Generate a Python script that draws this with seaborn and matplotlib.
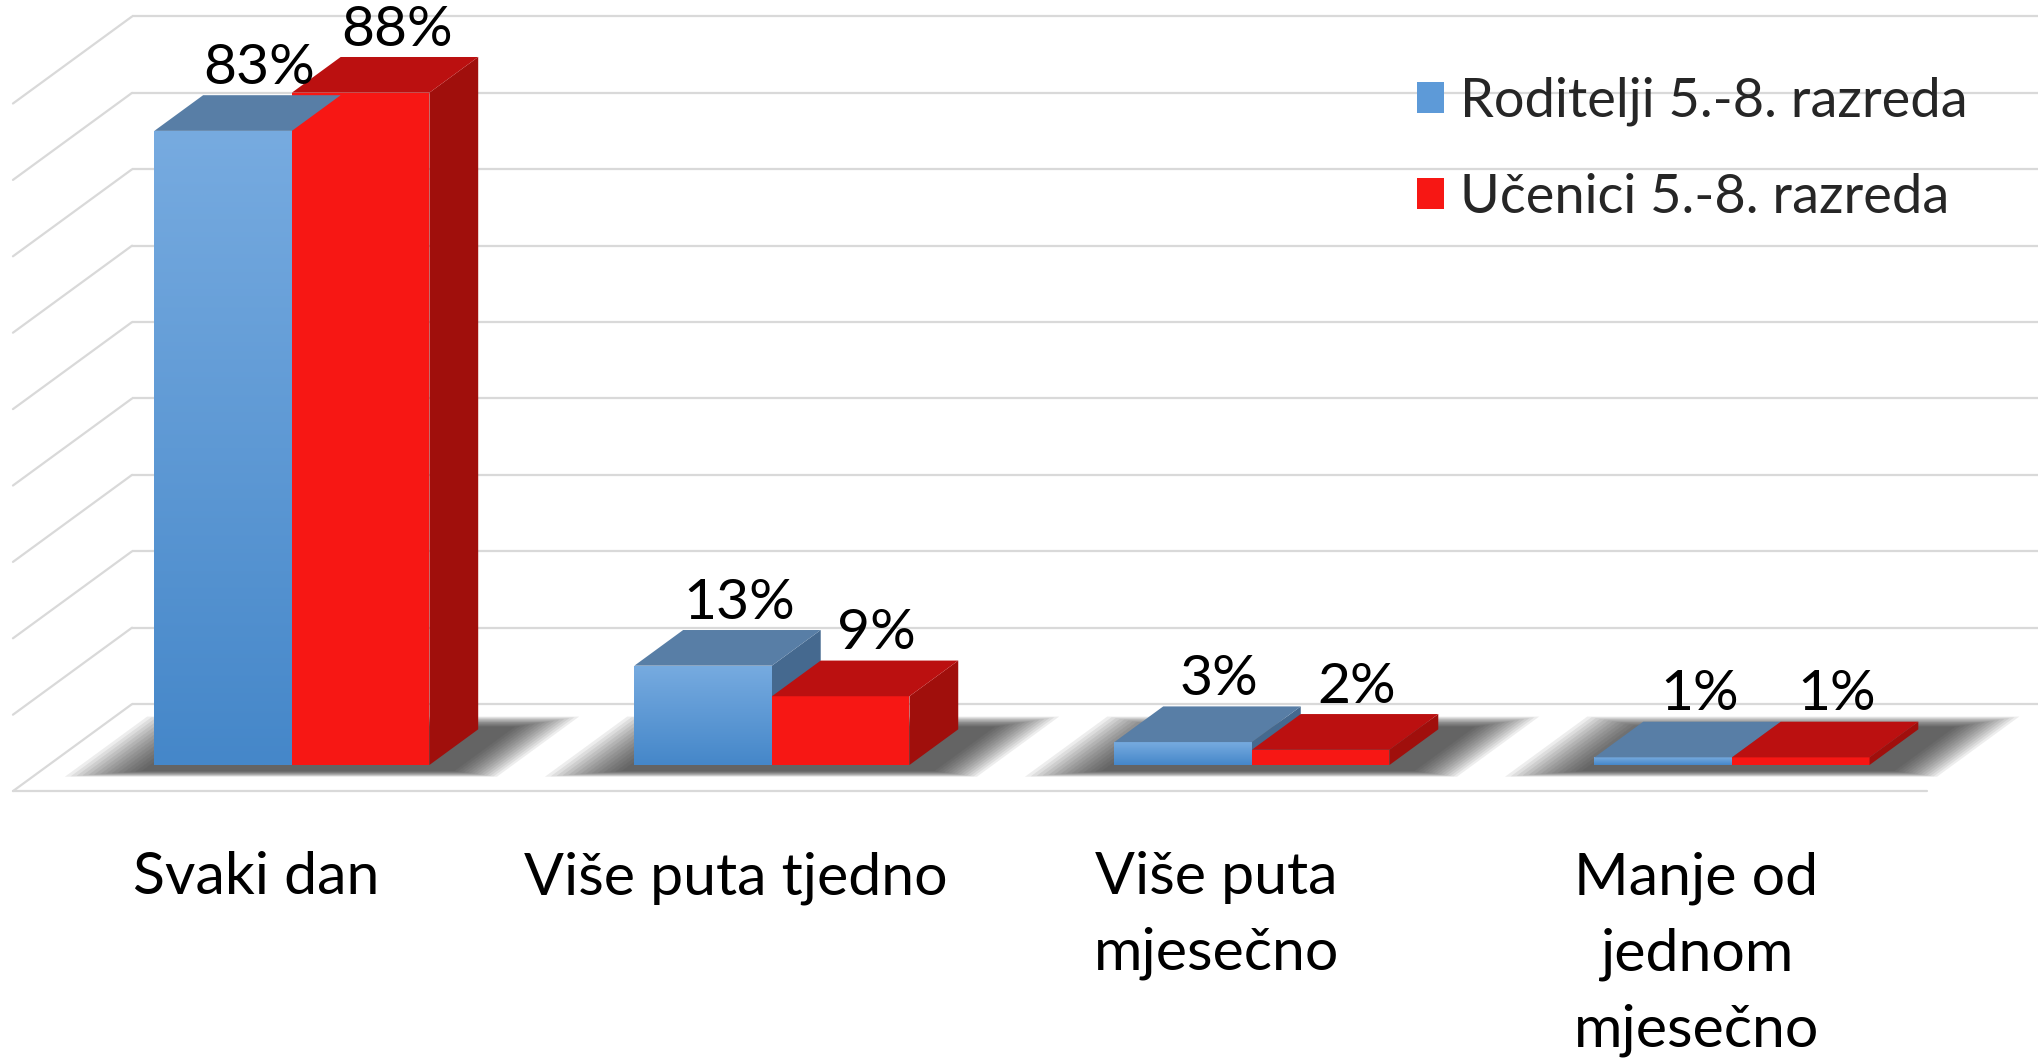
import numpy as np
import pandas as pd
import seaborn as sns
import matplotlib.pyplot as plt
from matplotlib.patches import Polygon, Patch
from matplotlib.colors import LinearSegmentedColormap

# Data
categories = ["Svaki dan", "Više puta tjedno", "Više puta\nmjesečno", "Manje od\njednom\nmjesečno"]
groups = ["Roditelji 5.-8. razreda", "Učenici 5.-8. razreda"]
roditelji = [83, 13, 3, 1]
ucenici = [88, 9, 2, 1]
grid_values = list(range(0, 100, 10))

df = pd.DataFrame({
    "kategorija": categories * 2,
    "grupa": [groups[0]] * len(categories) + [groups[1]] * len(categories),
    "postotak": roditelji + ucenici,
})

# Colours (front, top, side)
blue = "#5d9ad8"
blue_top, blue_side = "#587ea6", "#45698f"
red = "#f71714"
red_top, red_side = "#bb1010", "#a00f0c"
grid_col = "#d9d9d9"

sns.set_style("white")
plt.rcParams['font.family'] = ['Lato', 'DejaVu Sans']

fig = plt.figure(figsize=(20.38, 10.59), dpi=100)
ax = fig.add_axes([0, 0, 1, 1])

sns.barplot(data=df, x="kategorija", y="postotak", hue="grupa", palette=[blue, red],
            width=0.573, saturation=1, legend=False, ax=ax, zorder=5, linewidth=0)
bars = list(ax.patches)

# fake 3d: depth in data units, bars sit between Z1 and Z2 of the floor depth
DX, DY = 0.248, 11.39
Z1, Z2 = 0.30, 0.71


def proj(x, y, z):
    return (x + (z - Z1) * DX, y + (z - Z1) * DY)


x_wall, x_end = -0.5066, 3.48

# back wall gridlines + left wall diagonals
for v in grid_values:
    bx, by = proj(x_wall, v, 1)
    fx, fy = proj(x_wall, v, 0)
    ax.plot([bx, 3.8], [by, by], color=grid_col, lw=1.6, zorder=1, solid_capstyle='butt')
    ax.plot([fx, bx], [fy, by], color=grid_col, lw=1.6, zorder=1)
fx0, fy0 = proj(x_wall, 0, 0)
fx1, _ = proj(x_end, 0, 0)
ax.plot([fx0, fx1], [fy0, fy0], color=grid_col, lw=1.6, zorder=1)

n = len(categories)
blue_bars, red_bars = bars[:n], bars[n:2 * n]

# soft shadow on the floor under each pair (stacked translucent layers)
for b, r in zip(blue_bars, red_bars):
    x0, x1 = b.get_x(), r.get_x() + r.get_width()
    for k in range(14):
        xa = x0 - 0.01 - 0.011 * k
        xb = x1 + 0.07 + 0.008 * k
        za = Z1 - 0.07 - 0.005 * k
        zb = Z2 + 0.03 + 0.009 * k
        pts = [proj(xa, 0, za), proj(xb, 0, za), proj(xb, 0, zb), proj(xa, 0, zb)]
        ax.add_patch(Polygon(pts, closed=True, facecolor="#222222", alpha=0.08,
                             edgecolor='none', zorder=2))

# gradient on blue front faces
cmap_blue = LinearSegmentedColormap.from_list("b", ["#4587c9", "#77abe0"])
grad = np.linspace(0, 1, 256).reshape(-1, 1)
for b in blue_bars:
    x, w, h = b.get_x(), b.get_width(), b.get_height()
    im = ax.imshow(grad, cmap=cmap_blue, origin='lower', aspect='auto',
                   extent=(x, x + w, 0, h), zorder=5.2, interpolation='bilinear')
    im.set_clip_path(b)


def top_side(p, c_top, c_side, z_side):
    x, w, h = p.get_x(), p.get_width(), p.get_height()
    top = [(x, h), (x + w, h), proj(x + w, h, Z2), proj(x, h, Z2)]
    side = [(x + w, 0), (x + w, h), proj(x + w, h, Z2), proj(x + w, 0, Z2)]
    ax.add_patch(Polygon(side, closed=True, facecolor=c_side, edgecolor='none', zorder=z_side))
    ax.add_patch(Polygon(top, closed=True, facecolor=c_top, edgecolor='none', zorder=6))


for b, r in zip(blue_bars, red_bars):
    top_side(b, blue_top, blue_side, 4)
    top_side(r, red_top, red_side, 6)

# value labels
for p, val in zip(blue_bars + red_bars, roditelji + ucenici):
    x = p.get_x() + p.get_width() / 2 + 0.075
    y = p.get_height() + (Z2 - Z1) * DY + 1.5
    ax.text(x, y, f"{val}%", ha='center', va='baseline', fontsize=41, color='black', zorder=8)

# category labels at the front edge of the floor
for i, cat in enumerate(categories):
    ax.text(i - Z1 * DX, -11.3, cat, ha='center', va='top', fontsize=42.5,
            linespacing=1.52, color='black')

handles = [Patch(facecolor=blue, edgecolor='none'), Patch(facecolor=red, edgecolor='none')]
ax.legend(handles, groups, loc='upper left', bbox_to_anchor=(1417 / 2038, 1 - 77 / 1059),
          frameon=False, fontsize=39, handlelength=0.5, handleheight=0.5,
          handletextpad=0.3, labelspacing=0.85, borderpad=0, borderaxespad=0)

ax.set_xlim(-0.608, 3.6375)
ax.set_ylim(-38.48, 100.13)
ax.set_axis_off()

fig.savefig("out.png", dpi=100)
